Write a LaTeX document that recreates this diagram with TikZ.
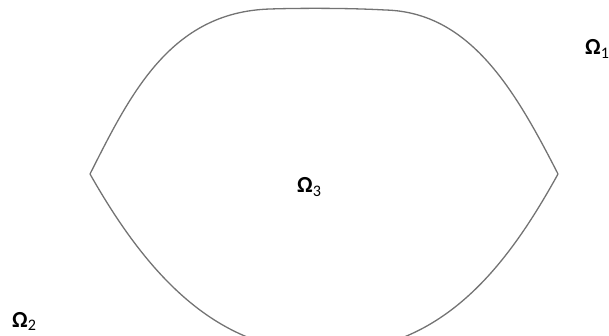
\documentclass[tikz,border=0pt]{standalone}
\usepackage{fontspec}
\setmainfont{Carlito}
\begin{document}
\begin{tikzpicture}[x=1pt,y=-1pt,
  outline/.style={draw=black!55, line width=1.3pt, line join=round},
  omlabel/.style={anchor=base west, inner sep=0pt, font=\fontsize{23}{25}\selectfont}]
\useasboundingbox (0,0) rectangle (609,336);
\begin{scope}
\clip (0,0) rectangle (609,336);
\coordinate (L) at (90,174);
\coordinate (R) at (558,174);
\coordinate (T1) at (270,9);
\coordinate (T2) at (385,10);
\coordinate (B) at (325,352);
\draw[outline] (L) .. controls (130,95) and (170,12) .. (T1)
  .. controls (300,8) and (350,8) .. (T2)
  .. controls (470,12) and (515,90) .. (R);
\draw[outline] (L) .. controls (150,280) and (220,352) .. (B)
  .. controls (440,352) and (505,270) .. (R);
\node[omlabel] (o1) at (585,55) {\textbf{Ω}\textsubscript{1}};
\end{scope}
\node[omlabel] (o2) at (12,327) {\textbf{Ω}\textsubscript{2}};
\node[omlabel] (o3) at (297,193) {\textbf{Ω}\textsubscript{3}};
\end{tikzpicture}
\end{document}
